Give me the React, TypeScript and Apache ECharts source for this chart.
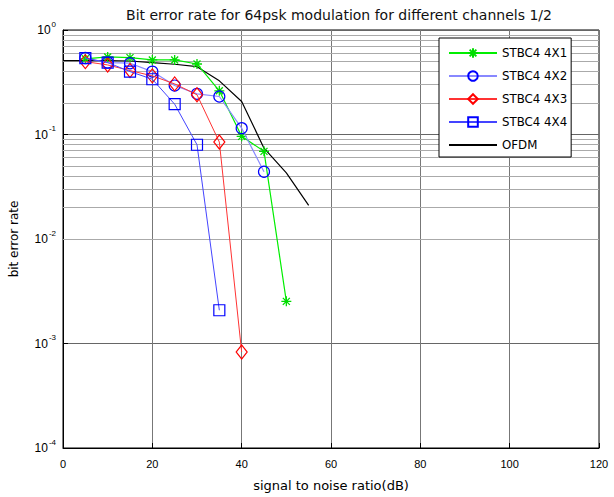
import React, { useEffect, useRef } from "react";
import * as echarts from "echarts";

const snr = [5, 10, 15, 20, 25, 30, 35, 40, 45, 50];
const ber4x1 = [0.53, 0.552, 0.544, 0.517, 0.517, 0.473, 0.262, 0.096, 0.069, 0.00253];
const ber4x2 = [0.54, 0.488, 0.481, 0.4, 0.294, 0.245, 0.231, 0.115, 0.044];
const ber4x3 = [0.498, 0.463, 0.409, 0.364, 0.305, 0.24, 0.0847, 0.00083];
const ber4x4 = [0.537, 0.488, 0.4, 0.338, 0.195, 0.0798, 0.00208];
const snrOfdm = [0, 5, 10, 15, 20, 25, 30, 35, 40, 45, 50, 55];
const berOfdm = [0.509, 0.51, 0.51, 0.505, 0.488, 0.47, 0.446, 0.326, 0.207, 0.074, 0.043, 0.021];
const xTicks = [0, 20, 40, 60, 80, 100, 120];
const decades = [-4, -3, -2, -1];
const minorMultipliers = [2, 3, 4, 5, 6, 7, 8, 9];

const FONT = "Liberation Sans, Arial, sans-serif";
const WIDE = "DejaVu Sans, Liberation Sans, sans-serif";
const STAR = "path://M0,-6L0,6M-6,0L6,0M-4.2,-4.2L4.2,4.2M-4.2,4.2L4.2,-4.2";

function pairs(xs: number[], ys: number[]) {
  return ys.map((y, i) => [xs[i], y]);
}

export default function App() {
  const ref = useRef<HTMLDivElement>(null);
  useEffect(() => {
    if (!ref.current) return;
    const chart = echarts.init(ref.current, null, { renderer: "svg" });
    const minorLines: any[] = [];
    decades.forEach((d) => {
      minorMultipliers.forEach((m) => {
        minorLines.push({ yAxis: m * Math.pow(10, d) });
      });
    });
    chart.setOption({
      animation: false,
      backgroundColor: "#fff",
      title: {
        text: "Bit error rate for 64psk modulation for different channels 1/2",
        left: 334,
        top: 3,
        textAlign: "center",
        textStyle: { fontFamily: WIDE, fontSize: 14, fontWeight: "normal", color: "#111" },
      },
      grid: {
        left: 63,
        right: 15,
        top: 30,
        bottom: 48,
        show: true,
        borderColor: "#000",
        borderWidth: 1,
        backgroundColor: "transparent",
      },
      legend: {
        orient: "vertical",
        left: 439,
        top: 38,
        z: 20,
        backgroundColor: "#fff",
        borderColor: "#000",
        borderWidth: 1,
        borderRadius: 0,
        padding: [9, 4, 6, 9],
        itemGap: 11,
        itemWidth: 48,
        itemHeight: 12,
        textStyle: { fontFamily: WIDE, fontSize: 11.8, color: "#000" },
        data: [
          "STBC4 4X1",
          "STBC4 4X2",
          "STBC4 4X3",
          "STBC4 4X4",
          { name: "OFDM", itemStyle: { opacity: 0 } },
        ],
      },
      xAxis: {
        type: "value",
        min: 0,
        max: 120,
        interval: 20,
        name: "signal to noise ratio(dB)",
        nameLocation: "middle",
        nameGap: 31,
        nameTextStyle: { fontFamily: WIDE, fontSize: 13, color: "#000" },
        axisLine: { lineStyle: { color: "#000", width: 1 } },
        axisTick: { inside: true, length: 5, lineStyle: { color: "#000" } },
        axisLabel: {
          fontFamily: FONT,
          fontSize: 11,
          color: "#000",
          margin: 10,
          formatter: (v: number) => (xTicks.includes(v) ? String(v) : ""),
        },
        splitLine: { show: true, lineStyle: { color: "#777", width: 1 } },
      },
      yAxis: {
        type: "log",
        logBase: 10,
        min: 1e-4,
        max: 1,
        name: "bit error rate",
        nameLocation: "middle",
        nameGap: 43,
        nameTextStyle: { fontFamily: WIDE, fontSize: 12, color: "#000" },
        axisLine: { lineStyle: { color: "#000", width: 1 } },
        axisTick: { inside: true, length: 5, lineStyle: { color: "#000" } },
        axisLabel: {
          fontFamily: FONT,
          fontSize: 12,
          color: "#000",
          margin: 7,
          formatter: (v: number) => "10{sup|" + Math.round(Math.log10(v)) + "}",
          rich: {
            sup: { fontFamily: FONT, fontSize: 8, color: "#000", verticalAlign: "top", padding: [0, 0, 12, 1] },
          },
        },
        splitLine: { show: true, lineStyle: { color: "#666", width: 1 } },
      },
      series: [
        {
          name: "minor",
          type: "line",
          data: [],
          silent: true,
          z: 1,
          markLine: {
            silent: true,
            z: 1,
            symbol: ["none", "none"],
            label: { show: false },
            lineStyle: { color: "#aaaaaa", type: "solid", width: 1 },
            data: minorLines,
          },
        },
        {
          name: "STBC4 4X1",
          type: "line",
          data: pairs(snr, ber4x1),
          symbol: STAR,
          symbolSize: 10,
          lineStyle: { color: "#00ee00", width: 1.2 },
          itemStyle: { color: "rgba(0,0,0,0)", borderColor: "#00dd00", borderWidth: 1.3 },
          z: 3,
        },
        {
          name: "STBC4 4X2",
          type: "line",
          data: pairs(snr, ber4x2),
          symbol: "circle",
          symbolSize: 11,
          lineStyle: { color: "#8888ff", width: 1.2 },
          itemStyle: { color: "rgba(0,0,0,0)", borderColor: "#0000ff", borderWidth: 1.2 },
          z: 4,
        },
        {
          name: "STBC4 4X3",
          type: "line",
          data: pairs(snr, ber4x3),
          symbol: "diamond",
          symbolSize: [11, 14],
          lineStyle: { color: "#ff3333", width: 1 },
          itemStyle: { color: "rgba(0,0,0,0)", borderColor: "#ff0000", borderWidth: 1.2 },
          z: 5,
        },
        {
          name: "STBC4 4X4",
          type: "line",
          data: pairs(snr, ber4x4),
          symbol: "rect",
          symbolSize: 11,
          lineStyle: { color: "#4444ff", width: 1 },
          itemStyle: { color: "rgba(0,0,0,0)", borderColor: "#0000ff", borderWidth: 1.2 },
          z: 6,
        },
        {
          name: "OFDM",
          type: "line",
          data: pairs(snrOfdm, berOfdm),
          symbol: "none",
          lineStyle: { color: "#000", width: 1.2 },
          itemStyle: { color: "#000" },
          z: 2,
        },
      ],
    });
    return () => chart.dispose();
  }, []);
  return (
    <div
      ref={ref}
      style={{ position: "fixed", left: 0, top: 0, width: 614, height: 497, background: "#fff" }}
    />
  );
}
